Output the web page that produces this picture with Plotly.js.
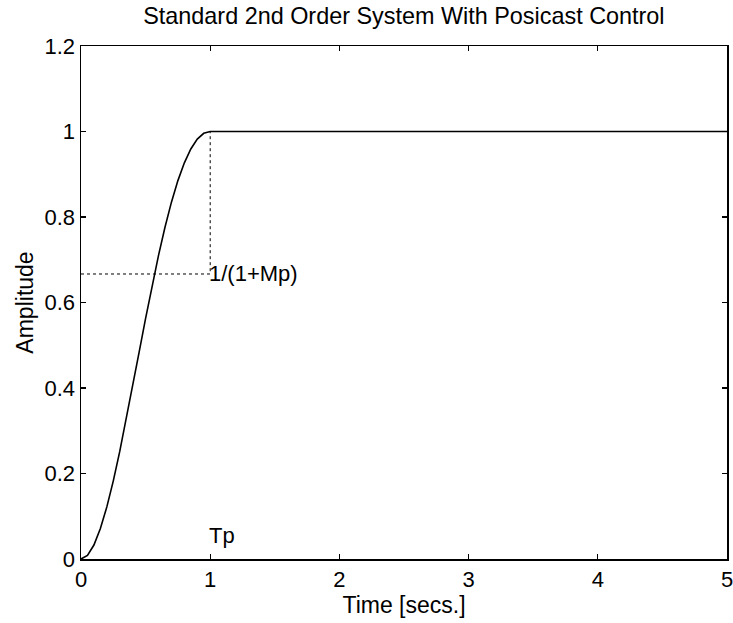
<!DOCTYPE html>
<html>
<head>
<meta charset="utf-8">
<script src="https://cdn.plot.ly/plotly-3.0.1.min.js"></script>
<style>html,body{margin:0;padding:0;background:#fff;}#chart{width:733px;height:623px;}</style>
</head>
<body>
<div id="chart"></div>
<script>
// Step response
var timeSecs = [0, 0.05, 0.1, 0.15, 0.2, 0.25, 0.3, 0.35, 0.4, 0.45, 0.5, 0.55, 0.6, 0.65, 0.7, 0.75, 0.8, 0.85, 0.9, 0.95, 1.0, 2.0, 3.0, 4.0, 5.0];
var amplitude = [0, 0.0085, 0.0327, 0.0711, 0.1219, 0.1828, 0.2517, 0.3263, 0.4046, 0.484, 0.5627, 0.6387, 0.7103, 0.776, 0.8347, 0.8851, 0.9268, 0.9592, 0.9821, 0.9957, 1.0, 1.0, 1.0, 1.0, 1.0];
// Dotted guide lines
var guideX = [0, 1, 1];
var guideY = [0.6667, 0.6667, 1.0];
// Labels
var tpLabel = {x: 1, y: 0.055, text: 'Tp'};
var mpLabel = {x: 1, y: 0.6667, text: '1/(1+Mp)'};
var xTicks = [0, 1, 2, 3, 4, 5];
var yTicks = [0, 0.2, 0.4, 0.6, 0.8, 1, 1.2];

var font = 'Liberation Sans, Arial, sans-serif';

var traces = [
  {x: guideX, y: guideY, mode: 'lines', line: {color: '#000', width: 1, dash: 'dot'}, hoverinfo: 'skip'},
  {x: timeSecs, y: amplitude, mode: 'lines', line: {color: '#000', width: 1.6}}
];

var axisCommon = {
  showgrid: false, zeroline: false, showline: true, linecolor: '#000', linewidth: 1.5,
  mirror: 'ticks', ticks: 'inside', ticklen: 5, tickwidth: 1.2, tickcolor: '#000',
  ticklabeloverflow: 'allow',
  tickfont: {family: font, size: 22, color: '#000'}
};

var layout = {
  width: 733, height: 623,
  margin: {l: 81, r: 6, t: 46, b: 64},
  paper_bgcolor: '#fff', plot_bgcolor: '#fff',
  showlegend: false,
  title: {text: 'Standard 2nd Order System With Posicast Control', font: {family: font, size: 23.4, color: '#000'}, x: 0.551, xanchor: 'center', y: 0.975, yanchor: 'middle', yref: 'container'},
  xaxis: Object.assign({}, axisCommon, {range: [0, 5], tickvals: xTicks, title: {text: 'Time [secs.]', font: {family: font, size: 23, color: '#000'}, standoff: 0}}),
  yaxis: Object.assign({}, axisCommon, {range: [0, 1.2], tickvals: yTicks, title: {text: 'Amplitude', font: {family: font, size: 23, color: '#000'}, standoff: 4}}),
  annotations: [tpLabel, mpLabel].map(function (a) {
    return {x: a.x, y: a.y, xref: 'x', yref: 'y', text: a.text, showarrow: false, xanchor: 'left', yanchor: 'middle', xshift: -3, font: {family: font, size: 22, color: '#000'}};
  })
};

Plotly.newPlot('chart', traces, layout, {displayModeBar: false, staticPlot: true});
</script>
</body>
</html>
